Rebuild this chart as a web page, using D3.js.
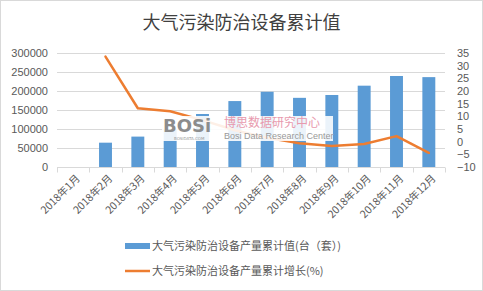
<!DOCTYPE html>
<html>
<head>
<meta charset="utf-8">
<script src="https://cdn.jsdelivr.net/npm/d3@7/dist/d3.min.js"></script>
<style>
body { margin: 0; background: #fff; }
svg { display: block; font-family: "Noto Sans CJK SC", "Microsoft YaHei", sans-serif; }
.axis text { fill: #595959; }
</style>
</head>
<body>
<svg class="chart"></svg>
<script>
// Chart values

var months = ["2018年1月", "2018年2月", "2018年3月", "2018年4月", "2018年5月", "2018年6月",
	"2018年7月", "2018年8月", "2018年9月", "2018年10月", "2018年11月", "2018年12月"];
var totals = [null, 64000, 80000, 98000, 139500, 173500, 198000, 182000, 189500, 214000, 239500, 236500];
var growth = [null, 33.6, 13.2, 12.0, 8.5, 4.5, 1.5, -0.6, -1.7, -0.9, 2.2, -4.4];
var leftTicks = [0, 50000, 100000, 150000, 200000, 250000, 300000];
var rightTicks = [-10, -5, 0, 5, 10, 15, 20, 25, 30, 35];
var seriesNames = ["大气污染防治设备产量累计值(台（套）)", "大气污染防治设备产量累计增长(%)"];

var W = 483, H = 291;
var margin = {top: 53, bottom: 124, left: 57, right: 38};
var blue = "#5b9bd5", orange = "#ed7d31";

var chart = d3.select(".chart")
	.attr("width", W)
	.attr("height", H);

chart.append("rect")
	.attr("x", 0.5).attr("y", 0.5)
	.attr("width", W - 1).attr("height", H - 1)
	.style("fill", "#fff").style("stroke", "#d9d9d9");

// Scales

var x = d3.scaleBand()
	.domain(months)
	.range([margin.left, W - margin.right])
	.paddingInner(0.6)
	.paddingOuter(0.3);

var xStep = d3.scaleBand().domain(months).range([margin.left, W - margin.right]);

var y = d3.scaleLinear()
	.domain([0, 300000])
	.range([H - margin.bottom, margin.top]);

var y2 = d3.scaleLinear()
	.domain([-10, 35])
	.range([H - margin.bottom, margin.top]);

// Title

chart.append("text")
	.attr("x", W / 2)
	.attr("y", 29)
	.style("text-anchor", "middle")
	.style("font-size", "18px")
	.style("fill", "#404040")
	.text("大气污染防治设备累计值");

// Gridlines

chart.append("g")
	.selectAll("line")
	.data(leftTicks.slice(1))
	.enter().append("line")
	.attr("x1", margin.left)
	.attr("x2", W - margin.right)
	.attr("y1", function(d) { return Math.round(y(d)) + 0.5; })
	.attr("y2", function(d) { return Math.round(y(d)) + 0.5; })
	.style("stroke", "#d9d9d9");

// Axes

var leftAxis = d3.axisLeft(y)
	.tickValues(leftTicks)
	.tickFormat(d3.format("d"))
	.tickSize(0)
	.tickPadding(9);

chart.append("g")
	.attr("class", "axis")
	.attr("transform", "translate(" + margin.left + ",0)")
	.call(leftAxis)
	.call(function(g) { g.select(".domain").remove(); })
	.selectAll("text")
	.style("font-size", "11px")
	.style("font-family", "Liberation Sans, Arial, sans-serif");

var rightAxis = d3.axisRight(y2)
	.tickValues(rightTicks)
	.tickSize(0)
	.tickPadding(12);

chart.append("g")
	.attr("class", "axis")
	.attr("transform", "translate(" + (W - margin.right) + ",0)")
	.call(rightAxis)
	.call(function(g) { g.select(".domain").remove(); })
	.selectAll("text")
	.style("font-size", "11px")
	.style("font-family", "Liberation Sans, Arial, sans-serif");

// Baseline with category ticks

var base = Math.round(y(0)) + 0.5;
chart.append("line")
	.attr("x1", margin.left).attr("x2", W - margin.right)
	.attr("y1", base).attr("y2", base)
	.style("stroke", "#d9d9d9");

chart.append("g")
	.selectAll("line")
	.data(months.concat(["end"]))
	.enter().append("line")
	.attr("x1", function(d, i) { return Math.round(margin.left + i * xStep.step()) + 0.5; })
	.attr("x2", function(d, i) { return Math.round(margin.left + i * xStep.step()) + 0.5; })
	.attr("y1", base)
	.attr("y2", base + 5)
	.style("stroke", "#d9d9d9");

chart.append("g")
	.attr("class", "axis")
	.selectAll("text")
	.data(months)
	.enter().append("text")
	.attr("transform", function(d) {
		return "translate(" + (xStep(d) + xStep.bandwidth() / 2 + 5) + "," + (base + 9) + ") rotate(-45)";
	})
	.style("text-anchor", "end")
	.attr("dy", "0.35em")
	.style("font-size", "10.5px")
	.text(function(d) { return d; });

// Bars

chart.append("g")
	.selectAll("rect")
	.data(months)
	.enter().append("rect")
	.filter(function(d, i) { return totals[i] != null; })
	.attr("x", function(d) { return x(d); })
	.attr("width", x.bandwidth())
	.attr("y", function(d) { return y(totals[months.indexOf(d)]); })
	.attr("height", function(d) { return y(0) - y(totals[months.indexOf(d)]); })
	.style("fill", blue);

// Growth line

var line = d3.line()
	.defined(function(d) { return d.v != null; })
	.x(function(d) { return xStep(d.m) + xStep.bandwidth() / 2; })
	.y(function(d) { return y2(d.v); });

chart.append("path")
	.datum(months.map(function(m, i) { return {m: m, v: growth[i]}; }))
	.attr("d", line)
	.style("fill", "none")
	.style("stroke", orange)
	.style("stroke-width", 2.5)
	.style("stroke-linejoin", "round")
	.style("stroke-linecap", "round");

// Watermark

var wm = chart.append("g").attr("transform", "translate(162,116)");
wm.append("rect")
	.attr("width", 171).attr("height", 25)
	.style("fill", "#fff").style("opacity", 0.88);
wm.append("text")
	.attr("x", 1).attr("y", 16)
	.style("font-family", "DejaVu Sans, sans-serif")
	.style("font-weight", "bold")
	.style("font-size", "18px")
	.style("fill", "#8c8c8c")
	.text("BOSi");
wm.append("text")
	.attr("x", 12).attr("y", 23.5)
	.style("font-family", "DejaVu Sans, sans-serif")
	.style("font-size", "4px")
	.style("fill", "#999")
	.text("BOSIDATA.COM");
wm.append("text")
	.attr("x", 62).attr("y", 11)
	.style("font-size", "12px")
	.style("fill", "#e89aae")
	.text("博思数据研究中心");
wm.append("text")
	.attr("x", 62).attr("y", 23)
	.style("font-family", "Liberation Sans Narrow, Liberation Sans, Arial, sans-serif")
	.style("font-size", "9px")
	.style("fill", "#999")
	.text("Bosi Data Research Center");

// Legend

var legend = chart.append("g").attr("transform", "translate(125,246)");

legend.append("rect")
	.attr("x", 0).attr("y", -3)
	.attr("width", 25).attr("height", 6)
	.style("fill", blue);
legend.append("line")
	.attr("x1", 0).attr("x2", 25)
	.attr("y1", 25).attr("y2", 25)
	.style("stroke", orange)
	.style("stroke-width", 2.5);

legend.selectAll("text")
	.data(seriesNames)
	.enter().append("text")
	.attr("x", 27)
	.attr("y", function(d, i) { return i * 25; })
	.attr("dy", "0.35em")
	.style("font-size", "11px")
	.style("fill", "#595959")
	.text(function(d) { return d; });
</script>
</body>
</html>
